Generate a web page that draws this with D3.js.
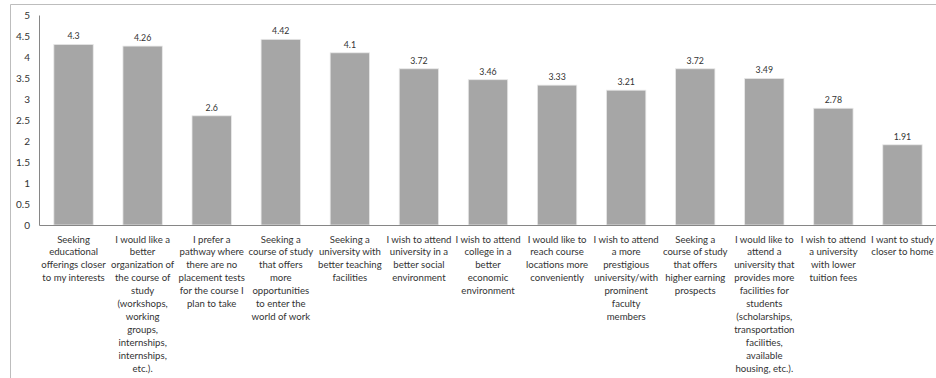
<!DOCTYPE html>
<html>
<head>
<meta charset="utf-8">
<script src="https://cdn.jsdelivr.net/npm/d3@7"></script>
<style>
  body { margin: 0; background: #fff; }
  svg { display: block; }
  text { font-family: Lato, "Noto Sans", sans-serif; fill: #333; }
</style>
</head>
<body>
<div id="chart"></div>
<script>
// reasons, one label per bar ("|" marks the line breaks seen in the picture)
var categories = [
    "Seeking|educational|offerings closer|to my interests",
    "I would like a|better|organization of|the course of|study|(workshops,|working|groups,|internships,|internships,|etc.).",
    "I prefer a|pathway where|there are no|placement tests|for the course I|plan to take",
    "Seeking a|course of study|that offers|more|opportunities|to enter the|world of work",
    "Seeking a|university with|better teaching|facilities",
    "I wish to attend|university in a|better social|environment",
    "I wish to attend|college in a|better|economic|environment",
    "I would like to|reach course|locations more|conveniently",
    "I wish to attend|a more|prestigious|university/with|prominent|faculty|members",
    "Seeking a|course of study|that offers|higher earning|prospects",
    "I would like to|attend a|university that|provides more|facilities for|students|(scholarships,|transportation|facilities,|available|housing, etc.).",
    "I wish to attend|a university|with lower|tuition fees",
    "I want to study|closer to home"
];
var values = [4.3, 4.26, 2.6, 4.42, 4.1, 3.72, 3.46, 3.33, 3.21, 3.72, 3.49, 2.78, 1.91];
var yTicks = [0, 0.5, 1, 1.5, 2, 2.5, 3, 3.5, 4, 4.5, 5];

var width = 936,
    height = 378;
var margin = {top: 15, right: -1, bottom: 153, left: 39};

var svg = d3.select("#chart").append("svg")
    .attr("width", width)
    .attr("height", height);

// outer chart frame (only top and left edges are in view)
svg.append("line")
    .attr("x1", 10.5).attr("x2", width)
    .attr("y1", 4.5).attr("y2", 4.5)
    .attr("stroke", "#bdbdbd");
svg.append("line")
    .attr("x1", 10.5).attr("x2", 10.5)
    .attr("y1", 4.5).attr("y2", height)
    .attr("stroke", "#bdbdbd");

var x = d3.scaleBand()
    .domain(categories)
    .range([margin.left, width - margin.right])
    .paddingInner(0.43)
    .paddingOuter(0.215);

var y = d3.scaleLinear()
    .domain([0, 5])
    .range([height - margin.bottom, margin.top]);

// bars
svg.append("g").selectAll("rect")
    .data(values)
    .enter().append("rect")
    .attr("x", function (d, i) { return x(categories[i]); })
    .attr("y", function (d) { return y(d); })
    .attr("width", x.bandwidth())
    .attr("height", function (d) { return y(0) - y(d); })
    .attr("fill", "#a6a6a6")
    .attr("stroke", "#e8e8e8")
    .attr("stroke-width", 0.8);

// value labels
svg.append("g").selectAll("text")
    .data(values)
    .enter().append("text")
    .attr("x", function (d, i) { return x(categories[i]) + x.bandwidth() / 2; })
    .attr("y", function (d) { return y(d) - 5; })
    .attr("text-anchor", "middle")
    .style("font-size", "8.8px")
    .text(function (d) { return d; });

// y axis
var yAxis = svg.append("g")
    .attr("transform", "translate(" + margin.left + ",0)")
    .call(d3.axisLeft(y).tickValues(yTicks).tickSize(0).tickPadding(9)
        .tickFormat(function (d) { return d; }));
yAxis.select(".domain").attr("stroke", "#868686");
yAxis.selectAll("text")
    .style("font-size", "10px")
    .style("font-family", "Lato, 'Noto Sans', sans-serif")
    .attr("fill", "#333");

// x axis with wrapped labels
var xAxis = svg.append("g")
    .attr("transform", "translate(0," + y(0) + ")")
    .call(d3.axisBottom(x).tickSize(0).tickFormat(""));
xAxis.select(".domain").attr("stroke", "#868686");

xAxis.selectAll(".tick").each(function (d) {
    var lines = d.split("|");
    var t = d3.select(this).append("text")
        .attr("text-anchor", "middle")
        .attr("y", 17.5)
        .style("font-size", "9.6px")
        .style("font-family", "Lato, 'Noto Sans', sans-serif")
        .attr("fill", "#333");
    lines.forEach(function (line, i) {
        t.append("tspan")
            .attr("x", 0)
            .attr("dy", i === 0 ? 0 : 12.93)
            .text(line);
    });
});
</script>
</body>
</html>
